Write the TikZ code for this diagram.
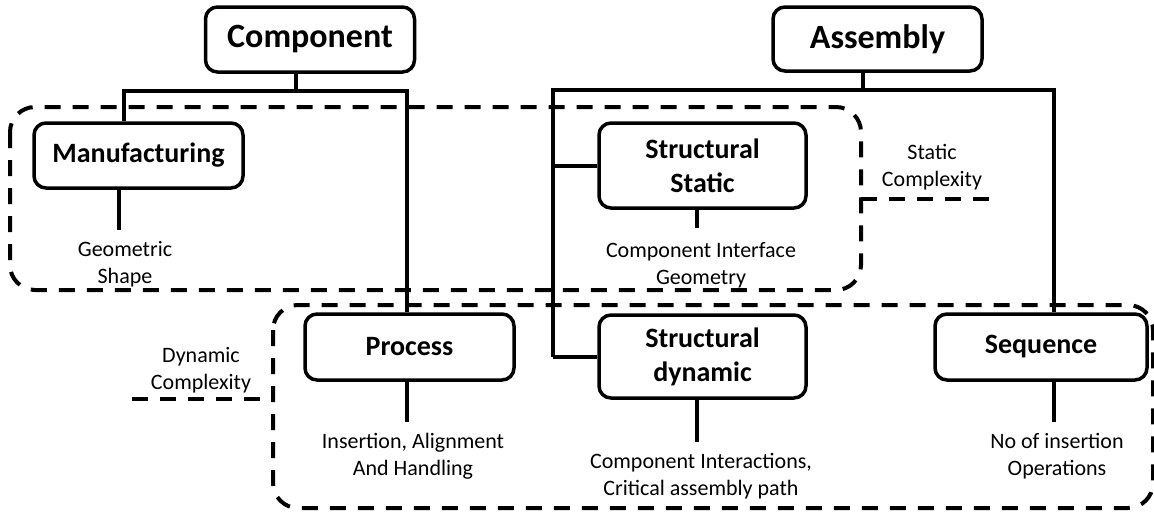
\documentclass[tikz,border=0pt]{standalone}
\usepackage{fontspec}
\setmainfont{Carlito}
\begin{document}
\begin{tikzpicture}[x=1pt,y=-1pt,
  box/.style={draw, line width=3.5pt, rounded corners=12pt, fill=white, align=center, inner sep=0pt},
  mainbox/.style={box, minimum width=209pt, minimum height=65pt, font=\fontsize{34}{40}\selectfont\bfseries},
  subbox/.style={box, minimum width=209pt, minimum height=66pt, font=\fontsize{28}{34}\selectfont\bfseries},
  note/.style={align=center, font=\fontsize{22}{27}\selectfont, inner sep=0pt},
  link/.style={line width=4pt},
  zone/.style={line width=4pt, dash pattern=on 16pt off 12pt, rounded corners=25pt}
]
\useasboundingbox (0,0) rectangle (1154,512);

% complexity zones
\draw[zone] (10,107) rectangle (861,290);
\draw[zone] (273,305) rectangle (1153,508);
\coordinate (sl) at (861,199);
\coordinate (sr) at (993,199);
\draw[zone] (sl) -- (sr);
\coordinate (dl) at (132,399);
\coordinate (dr) at (273,399);
\draw[zone] (dl) -- (dr);

% boxes
\node[mainbox] (comp) at (310,39.5) {Component};
\node[mainbox, minimum height=64pt] (asm) at (877.5,39) {Assembly};
\node[subbox, minimum height=65pt] (manu) at (138.5,155.5) {Manufacturing};
\node[subbox] (proc) at (409.5,347) {Process};
\node[subbox, minimum width=207pt, minimum height=85pt] (sstat) at (702.5,165.5) {Structural\\Static};
\node[subbox, minimum width=207pt, minimum height=83pt] (sdyn) at (702.5,356.5) {Structural\\dynamic};
\node[subbox, minimum width=212pt] (seq) at (1041,347) {Sequence};

% descriptions
\node[note] (geo) at (125,264) {Geometric\\Shape};
\node[note] (cig) at (701,265) {Component Interface\\Geometry};
\node[note] (statc) at (932,167) {Static\\Complexity};
\node[note] (dync) at (201,370) {Dynamic\\Complexity};
\node[note] (iah) at (413,456) {Insertion, Alignment\\And Handling};
\node[note] (cicap) at (701,476) {Component Interactions,\\Critical assembly path};
\node[note] (noi) at (1057,456) {No of insertion\\Operations};

% component tree
\coordinate (cj) at (296,91);
\coordinate (cl) at (124,91);
\coordinate (cr) at (407,91);
\draw[link] (comp.south -| cj) -- (cj);
\draw[link] (manu.north -| cl) -- (cl) -- (cr) -- (proc.north -| cr);

% assembly tree
\coordinate (aj) at (863,90);
\coordinate (al) at (553,90);
\coordinate (ar) at (1054,90);
\draw[link] (asm.south -| aj) -- (aj);
\draw[link] (sdyn.west -| al) -- (al) -- (ar) -- (seq.north -| ar);
\draw[link] (sstat.west -| al) -- (sstat.west);
\draw[link] (sdyn.west -| al) -- (sdyn.west);

% stems to descriptions
\coordinate (mst) at (119,230);
\coordinate (sst) at (697,228);
\coordinate (pst) at (407,422);
\coordinate (dst) at (697,442);
\coordinate (qst) at (1054,422);
\draw[link] (manu.south -| mst) -- (mst);
\draw[link] (sstat.south -| sst) -- (sst);
\draw[link] (proc.south -| pst) -- (pst);
\draw[link] (sdyn.south -| dst) -- (dst);
\draw[link] (seq.south -| qst) -- (qst);
\end{tikzpicture}
\end{document}
